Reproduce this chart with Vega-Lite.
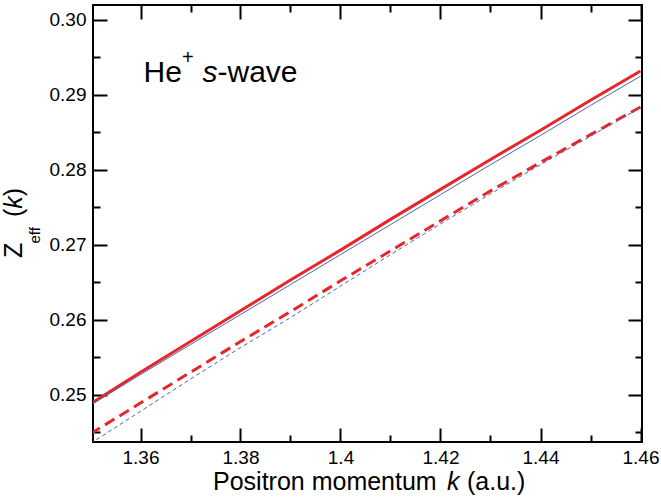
{
  "$schema": "https://vega.github.io/schema/vega-lite/v6.json",
  "autosize": {"type": "none"},
  "padding": {"left": 93, "top": 5, "right": 19, "bottom": 60},
  "width": 549,
  "height": 437,
  "background": "white",
  "config": {
    "view": {"stroke": "black", "strokeWidth": 2},
    "axis": {"domain": false, "grid": false, "tickColor": "black", "tickWidth": 2, "labelColor": "black", "labelFont": "Liberation Sans", "labelFontSize": 19, "title": null, "labelOverlap": false, "labelFlush": false}
  },
  "datasets": {
    "curves": [
      {"k": 1.35, "z": 0.2488, "s": "rs"}, {"k": 1.36, "z": 0.2530, "s": "rs"}, {"k": 1.37, "z": 0.2571, "s": "rs"}, {"k": 1.38, "z": 0.2612, "s": "rs"}, {"k": 1.39, "z": 0.2653, "s": "rs"}, {"k": 1.40, "z": 0.2693, "s": "rs"}, {"k": 1.41, "z": 0.2734, "s": "rs"}, {"k": 1.42, "z": 0.2774, "s": "rs"}, {"k": 1.43, "z": 0.2814, "s": "rs"}, {"k": 1.44, "z": 0.2853, "s": "rs"}, {"k": 1.45, "z": 0.2893, "s": "rs"}, {"k": 1.46, "z": 0.2932, "s": "rs"},
      {"k": 1.35, "z": 0.2486, "s": "bs"}, {"k": 1.36, "z": 0.2527, "s": "bs"}, {"k": 1.37, "z": 0.2567, "s": "bs"}, {"k": 1.38, "z": 0.2607, "s": "bs"}, {"k": 1.39, "z": 0.2647, "s": "bs"}, {"k": 1.40, "z": 0.2687, "s": "bs"}, {"k": 1.41, "z": 0.2727, "s": "bs"}, {"k": 1.42, "z": 0.2767, "s": "bs"}, {"k": 1.43, "z": 0.2807, "s": "bs"}, {"k": 1.44, "z": 0.2846, "s": "bs"}, {"k": 1.45, "z": 0.2886, "s": "bs"}, {"k": 1.46, "z": 0.2925, "s": "bs"},
      {"k": 1.35, "z": 0.2448, "s": "rd"}, {"k": 1.36, "z": 0.2489, "s": "rd"}, {"k": 1.37, "z": 0.2530, "s": "rd"}, {"k": 1.38, "z": 0.2571, "s": "rd"}, {"k": 1.39, "z": 0.2611, "s": "rd"}, {"k": 1.40, "z": 0.2652, "s": "rd"}, {"k": 1.41, "z": 0.2692, "s": "rd"}, {"k": 1.42, "z": 0.2732, "s": "rd"}, {"k": 1.43, "z": 0.2772, "s": "rd"}, {"k": 1.44, "z": 0.2810, "s": "rd"}, {"k": 1.45, "z": 0.2847, "s": "rd"}, {"k": 1.46, "z": 0.2884, "s": "rd"},
      {"k": 1.35, "z": 0.2435, "s": "bd"}, {"k": 1.36, "z": 0.2478, "s": "bd"}, {"k": 1.37, "z": 0.2521, "s": "bd"}, {"k": 1.38, "z": 0.2563, "s": "bd"}, {"k": 1.39, "z": 0.2603, "s": "bd"}, {"k": 1.40, "z": 0.2645, "s": "bd"}, {"k": 1.41, "z": 0.2687, "s": "bd"}, {"k": 1.42, "z": 0.2728, "s": "bd"}, {"k": 1.43, "z": 0.2768, "s": "bd"}, {"k": 1.44, "z": 0.2807, "s": "bd"}, {"k": 1.45, "z": 0.2845, "s": "bd"}, {"k": 1.46, "z": 0.2883, "s": "bd"}
    ],
    "labels": [
      {"t": "He", "k": 1.3606, "z": 0.29173, "fs": 30, "a": 0},
      {"t": "+", "k": 1.3683, "z": 0.29413, "fs": 20, "a": 0},
      {"t": "-wave", "k": 1.3754, "z": 0.29173, "fs": 30, "a": 0},
      {"t": "Positron momentum", "k": 1.3745, "z": 0.23723, "fs": 25, "a": 0},
      {"t": "(a.u.)", "k": 1.4253, "z": 0.23723, "fs": 25, "a": 0},
      {"t": "Z", "k": 1.3363, "z": 0.26825, "fs": 25, "a": 270},
      {"t": "eff", "k": 1.3398, "z": 0.27018, "fs": 15, "a": 270},
      {"t": "(", "k": 1.3363, "z": 0.27372, "fs": 25, "a": 270},
      {"t": ")", "k": 1.3363, "z": 0.27650, "fs": 25, "a": 270}
    ],
    "italics": [
      {"t": "s", "k": 1.3724, "z": 0.29173, "fs": 30, "a": 0},
      {"t": "k", "k": 1.4213, "z": 0.23723, "fs": 25, "a": 0},
      {"t": "k", "k": 1.3363, "z": 0.27483, "fs": 25, "a": 270}
    ]
  },
  "resolve": {"axis": {"x": "independent", "y": "independent"}},
  "layer": [
    {
      "data": {"name": "curves"},
      "transform": [{"filter": "datum.s == 'rs'"}],
      "mark": {"type": "line", "clip": true, "color": "#e8262a", "strokeWidth": 3},
      "encoding": {
        "x": {"field": "k", "type": "quantitative", "scale": {"domain": [1.3505, 1.4603], "nice": false, "zero": false},
              "axis": {"orient": "bottom", "values": [1.36, 1.38, 1.40, 1.42, 1.44, 1.46], "tickSize": -14, "labelPadding": 20, "format": ".2~f"}},
        "y": {"field": "z", "type": "quantitative", "scale": {"domain": [0.2437, 0.302], "nice": false, "zero": false},
              "axis": {"orient": "left", "values": [0.25, 0.26, 0.27, 0.28, 0.29, 0.30], "tickSize": -14, "labelPadding": 21, "format": ".2f"}}
      }
    },
    {
      "data": {"name": "curves"},
      "transform": [{"filter": "datum.s == 'rd'"}],
      "mark": {"type": "line", "clip": true, "color": "#e8262a", "strokeWidth": 3, "strokeDash": [11, 6]},
      "encoding": {
        "x": {"field": "k", "type": "quantitative", "axis": {"orient": "bottom", "values": [1.37, 1.39, 1.41, 1.43, 1.45], "tickSize": -7, "labels": false}},
        "y": {"field": "z", "type": "quantitative", "axis": {"orient": "left", "values": [0.245, 0.255, 0.265, 0.275, 0.285, 0.295], "tickSize": -7, "labels": false}}
      }
    },
    {
      "data": {"name": "curves"},
      "transform": [{"filter": "datum.s == 'bs'"}],
      "mark": {"type": "line", "clip": true, "color": "#4a64b8", "strokeWidth": 1},
      "encoding": {
        "x": {"field": "k", "type": "quantitative", "axis": {"orient": "top", "values": [1.36, 1.38, 1.40, 1.42, 1.44, 1.46], "tickSize": -14, "labels": false}},
        "y": {"field": "z", "type": "quantitative", "axis": {"orient": "right", "values": [0.25, 0.26, 0.27, 0.28, 0.29, 0.30], "tickSize": -14, "labels": false}}
      }
    },
    {
      "data": {"name": "curves"},
      "transform": [{"filter": "datum.s == 'bd'"}],
      "mark": {"type": "line", "clip": true, "color": "#4a64b8", "strokeWidth": 1, "strokeDash": [4, 3]},
      "encoding": {
        "x": {"field": "k", "type": "quantitative", "axis": {"orient": "top", "values": [1.37, 1.39, 1.41, 1.43, 1.45], "tickSize": -7, "labels": false}},
        "y": {"field": "z", "type": "quantitative", "axis": {"orient": "right", "values": [0.245, 0.255, 0.265, 0.275, 0.285, 0.295], "tickSize": -7, "labels": false}}
      }
    },
    {
      "data": {"name": "labels"},
      "mark": {"type": "text", "align": "left", "baseline": "alphabetic", "font": "Liberation Sans", "color": "black"},
      "encoding": {
        "x": {"field": "k", "type": "quantitative", "axis": null},
        "y": {"field": "z", "type": "quantitative", "axis": null},
        "text": {"field": "t"},
        "size": {"field": "fs", "type": "quantitative", "scale": null},
        "angle": {"field": "a", "type": "quantitative", "scale": null}
      }
    },
    {
      "data": {"name": "italics"},
      "mark": {"type": "text", "align": "left", "baseline": "alphabetic", "font": "Liberation Sans", "fontStyle": "italic", "color": "black"},
      "encoding": {
        "x": {"field": "k", "type": "quantitative", "axis": null},
        "y": {"field": "z", "type": "quantitative", "axis": null},
        "text": {"field": "t"},
        "size": {"field": "fs", "type": "quantitative", "scale": null},
        "angle": {"field": "a", "type": "quantitative", "scale": null}
      }
    }
  ]
}
